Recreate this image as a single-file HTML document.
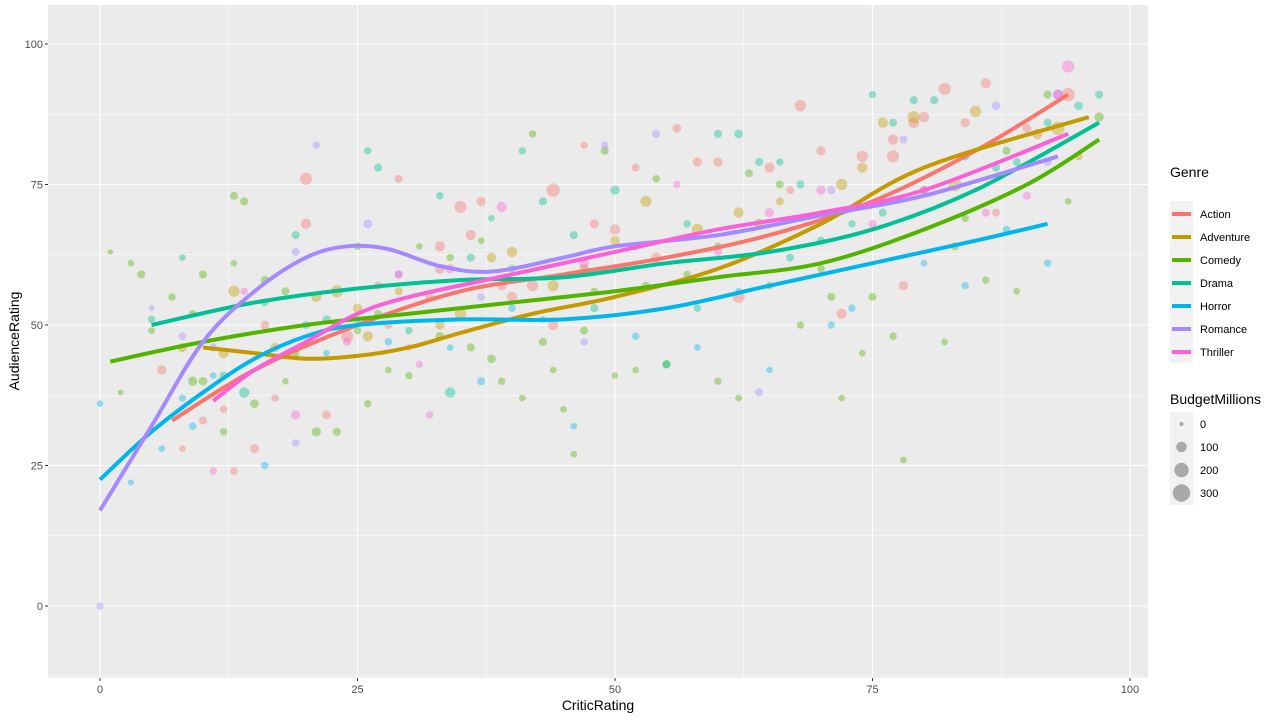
<!DOCTYPE html>
<html><head><meta charset="utf-8"><style>
body{margin:0;background:#fff;font-family:"Liberation Sans",Arial,sans-serif}
svg text{font-family:"Liberation Sans",Arial,sans-serif}
</style></head><body>
<svg id="chart" width="1280" height="720"></svg>
<script>
const genres=["Action","Adventure","Comedy","Drama","Horror","Romance","Thriller"];
const colors=["#F8766D","#C49A00","#53B400","#00C094","#00B6EB","#A58AFF","#FB61D7"];
const xTicks=[0,25,50,75,100];
const yTicks=[0,25,50,75,100];
const sizeTicks=[0,100,200,300];
const ptsAction=[[6,42,60],[8,28,20],[10,33,40],[12,35,30],[13,24,30],[15,28,60],[16,50,50],[17,37,30],[20,76,120],[20,68,80],[22,34,50],[24,48,120],[27,57,40],[28,50,40],[29,76,40],[30,46,20],[32,55,40],[33,64,80],[35,71,120],[36,66,80],[37,72,60],[40,55,80],[42,57,100],[44,74,150],[44,50,80],[47,82,30],[48,68,60],[50,67,80],[52,78,40],[56,85,50],[58,79,60],[62,55,120],[65,78,80],[67,74,40],[70,81,60],[72,52,80],[74,80,100],[77,83,80],[78,57,60],[80,87,80],[82,92,120],[84,86,60],[86,93,80],[87,70,40],[90,85,50],[94,91,150],[68,89,100],[23,50,60],[33,60,70],[39,57,60],[54,62,80],[60,79,60],[77,80,120],[79,86,90]];
const ptsAdventure=[[8,46,60],[12,45,80],[13,56,100],[17,46,60],[21,55,80],[23,56,120],[25,53,60],[29,56,40],[33,50,60],[35,52,100],[38,62,60],[40,63,80],[44,57,100],[50,65,60],[53,72,100],[58,67,100],[62,70,80],[66,72,40],[72,75,100],[74,78,80],[76,86,80],[79,87,120],[83,75,150],[85,88,100],[93,85,150],[91,84,80],[95,80,40],[26,48,80],[47,60,60],[64,68,80]];
const ptsComedy=[[1,63,5],[2,38,10],[3,61,20],[4,59,40],[5,49,20],[7,55,30],[9,52,30],[10,59,40],[10,40,50],[12,31,30],[13,73,40],[13,61,20],[14,72,40],[15,36,50],[16,58,40],[18,40,20],[19,45,30],[21,31,60],[23,31,40],[25,64,30],[26,36,30],[27,52,40],[28,42,20],[30,41,30],[31,64,20],[34,62,30],[36,46,40],[37,65,20],[38,44,50],[39,40,30],[41,37,20],[42,84,30],[43,47,40],[45,35,20],[46,27,20],[48,56,30],[49,81,40],[50,41,20],[52,42,20],[54,76,30],[55,43,40],[57,59,30],[60,64,30],[62,37,20],[63,77,40],[65,57,30],[66,75,40],[68,50,30],[70,60,30],[72,37,20],[74,45,20],[75,55,40],[77,48,30],[78,26,20],[80,74,40],[82,47,20],[84,69,30],[86,58,30],[88,81,40],[89,56,20],[92,91,40],[94,72,20],[97,87,60],[25,49,30],[44,42,20],[60,40,30],[9,40,60],[18,56,40],[33,48,50],[47,49,40],[53,57,40],[71,55,40],[83,64,40]];
const ptsDrama=[[5,51,30],[8,62,20],[12,41,40],[14,38,80],[16,54,30],[19,66,40],[22,51,40],[26,81,30],[27,78,40],[30,49,30],[33,73,30],[34,38,80],[36,62,40],[38,69,20],[41,81,30],[43,72,40],[46,66,40],[48,53,40],[50,74,60],[52,64,40],[55,43,40],[57,68,30],[60,84,40],[62,84,50],[64,79,40],[66,79,30],[68,75,40],[70,65,40],[73,68,30],[75,91,30],[77,86,40],[79,90,40],[81,90,40],[84,80,40],[87,78,40],[89,79,40],[92,86,40],[95,89,50],[97,91,40],[58,53,30],[76,70,40],[40,60,40],[67,62,40]];
const ptsHorror=[[0,36,20],[3,22,10],[6,28,20],[8,37,30],[9,32,30],[11,41,20],[16,25,30],[20,50,40],[22,45,20],[25,51,30],[28,47,30],[34,46,20],[40,53,30],[43,51,20],[46,32,20],[52,48,30],[58,46,20],[62,56,20],[65,42,20],[71,50,30],[73,53,30],[80,61,20],[84,57,30],[88,67,30],[92,61,30],[37,40,40]];
const ptsRomance=[[0,0,30],[5,53,10],[8,48,30],[11,46,40],[19,29,30],[19,63,40],[21,82,30],[26,68,50],[29,59,40],[37,55,30],[47,47,30],[49,82,30],[54,84,40],[64,38,40],[71,74,40],[78,83,40],[87,89,50],[92,79,40],[93,91,80]];
const ptsThriller=[[11,24,30],[14,56,30],[19,34,60],[24,47,40],[29,59,40],[31,43,30],[32,34,30],[34,60,60],[39,71,80],[47,61,80],[56,75,30],[60,63,40],[65,70,60],[70,74,60],[75,68,40],[80,74,50],[86,70,40],[90,73,40],[94,96,120],[93,91,60]];
const fitAction=[[7,33],[15,42],[25,50],[35,56],[45,59],[55,62],[65,66],[75,72],[85,81],[94,91]];
const fitAdventure=[[10,46],[15,45],[20,44],[25,44.5],[30,46],[35,48.6],[42,52],[50,55],[60,60],[70,68],[80,78],[96,87]];
const fitComedy=[[1,43.5],[10,47],[20,50],[30,52],[40,54],[50,56],[60,58.5],[70,61],[80,67],[90,75],[97,83]];
const fitDrama=[[5,50],[15,54],[25,56.5],[35,58],[45,58.5],[55,61],[65,63],[75,67],[85,74],[97,86]];
const fitHorror=[[0,22.5],[5,31],[10,38],[15,44],[20,48],[25,50],[35,51],[45,51],[55,53],[65,57],[75,61],[85,65],[92,68]];
const fitRomance=[[0,17],[5,32],[10,47],[15,56],[20,62],[24,64],[28,63.5],[33,60.5],[38,59.5],[45,62],[50,64],[60,66],[70,69.5],[80,73],[93,80]];
const fitThriller=[[11,36.5],[15,42],[20,47],[25,52],[30,55],[40,59],[50,63],[60,67],[70,70],[80,74],[94,84]];
const allPts=[ptsAction,ptsAdventure,ptsComedy,ptsDrama,ptsHorror,ptsRomance,ptsThriller];
const allFits=[fitAction,fitAdventure,fitComedy,fitDrama,fitHorror,fitRomance,fitThriller];

const NS="http://www.w3.org/2000/svg";
const svg=document.getElementById('chart');
const P={l:48,r:1148,t:5,b:678};
const xS=v=>100+v*10.3;
const yS=v=>606-v*5.62;
const rS=b=>Math.sqrt(6+b*0.26);
function mk(tag,attrs,parent){const e=document.createElementNS(NS,tag);for(const k in attrs)e.setAttribute(k,attrs[k]);(parent||svg).appendChild(e);return e;}

const panel=mk('rect',{x:P.l,y:P.t,width:P.r-P.l,height:P.b-P.t,fill:'#EBEBEB'});


for(let i=0;i<xTicks.length-1;i++){const m=(xTicks[i]+xTicks[i+1])/2;mk('line',{x1:xS(m),x2:xS(m),y1:P.t,y2:P.b,stroke:'#fff','stroke-width':0.5});}
mk('line',{x1:P.l,x2:P.r,y1:yS(-12.5),y2:yS(-12.5),stroke:'#fff','stroke-width':0.5});
for(let i=0;i<yTicks.length-1;i++){const m=(yTicks[i]+yTicks[i+1])/2;mk('line',{x1:P.l,x2:P.r,y1:yS(m),y2:yS(m),stroke:'#fff','stroke-width':0.5});}
xTicks.forEach(t=>{
 const g=mk('line',{x1:xS(t),x2:xS(t),y1:P.t,y2:P.b,stroke:'#fff','stroke-width':1.1});
 
 
 mk('line',{x1:xS(t),x2:xS(t),y1:P.b,y2:P.b+3,stroke:'#333','stroke-width':1});
 const tx=mk('text',{x:xS(t),y:P.b+15,'text-anchor':'middle','font-size':11,fill:'#4D4D4D'});tx.textContent=t;
 
 
});
yTicks.forEach(t=>{
 const g=mk('line',{x1:P.l,x2:P.r,y1:yS(t),y2:yS(t),stroke:'#fff','stroke-width':1.1});
 
 
 mk('line',{x1:P.l-3,x2:P.l,y1:yS(t),y2:yS(t),stroke:'#333','stroke-width':1});
 const tx=mk('text',{x:P.l-5,y:yS(t)+4,'text-anchor':'end','font-size':11,fill:'#4D4D4D'});tx.textContent=t;
 
 
});
allPts.forEach((arr,gi)=>{arr.forEach(p=>{
 const c=mk('circle',{cx:xS(p[0]),cy:yS(p[1]),r:rS(p[2]),fill:colors[gi],'fill-opacity':0.4});
 
 
});});
function path(pts){const q=pts.map(p=>[xS(p[0]),yS(p[1])]);let d='M'+q[0][0]+','+q[0][1];
 for(let i=0;i<q.length-1;i++){const p0=q[Math.max(0,i-1)],p1=q[i],p2=q[i+1],p3=q[Math.min(q.length-1,i+2)];
 const c1=[p1[0]+(p2[0]-p0[0])/6,p1[1]+(p2[1]-p0[1])/6],c2=[p2[0]-(p3[0]-p1[0])/6,p2[1]-(p3[1]-p1[1])/6];
 d+=` C${c1[0]},${c1[1]} ${c2[0]},${c2[1]} ${p2[0]},${p2[1]}`;}return d;}
allFits.forEach((f,gi)=>{
 const l=mk('path',{d:path(f),fill:'none',stroke:colors[gi],'stroke-width':4,'stroke-linecap':'butt'});
 
 
});
const xt=mk('text',{x:598,y:710,'text-anchor':'middle','font-size':14,fill:'#000'});xt.textContent='CriticRating';


const yt=mk('text',{x:0,y:0,'text-anchor':'middle','font-size':14,fill:'#000',transform:'translate(19,341) rotate(-90)'});yt.textContent='AudienceRating';


const lt=mk('text',{x:1170,y:177,'font-size':14,fill:'#000'});lt.textContent='Genre';


mk('rect',{x:1170,y:201,width:23,height:162,fill:'#F2F2F2'});
genres.forEach((g,i)=>{const y=214+i*23;
 const k=mk('line',{x1:1172,x2:1191,y1:y,y2:y,stroke:colors[i],'stroke-width':4});
 
 
 const t=mk('text',{x:1200,y:y+4,'font-size':11,fill:'#000'});t.textContent=g;
 
 
});
const bt=mk('text',{x:1170,y:404,'font-size':14,fill:'#000'});bt.textContent='BudgetMillions';


mk('rect',{x:1170,y:412,width:23,height:93,fill:'#F2F2F2'});
sizeTicks.forEach((s,i)=>{const y=424+i*23;
 const c=mk('circle',{cx:1181.5,cy:y,r:Math.sqrt(4+s*0.24),fill:'#000','fill-opacity':0.3});
 
 
 const t=mk('text',{x:1200,y:y+4,'font-size':11,fill:'#000'});t.textContent=s;
 
 
});
</script>
</body></html>
